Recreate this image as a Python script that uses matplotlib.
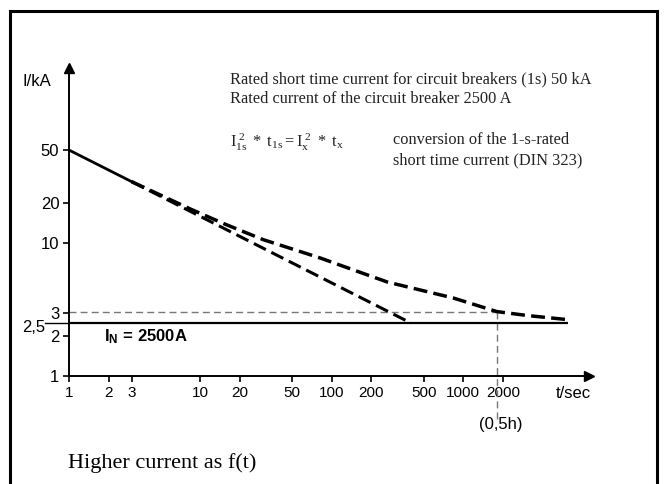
import matplotlib
matplotlib.use("Agg")
import matplotlib.pyplot as plt
from matplotlib.patches import Rectangle

# ---- data ----
t_ticks = [1, 2, 3, 10, 20, 50, 100, 200, 500, 1000, 2000]
t_tick_labels = ["1", "2", "3", "10", "20", "50", "100", "200", "500", "1000", "2000"]
i_ticks = [1, 2, 3, 10, 20, 50]
i_tick_labels = ["1", "2", "3", "10", "20", "50"]

# shared initial segment (solid)
common_t = [1, 3]
common_i = [50, 28.9]
# I^2 t = const line (dashed)
i2t_t = [3, 400]
i2t_i = [28.9, 2.5]
# upper curve (dashed)
upper_t = [3, 8.4, 15, 30, 82, 146, 264, 471, 838, 1800, 3055, 6300]
upper_i = [28.9, 18.0, 14.0, 10.6, 7.7, 6.27, 5.09, 4.43, 3.86, 3.05, 2.85, 2.65]
# rated current line
rated_t = [1, 6300]
rated_i = [2.5, 2.5]
# reference point (0,5 h)
ref_t = 1800
ref_i = 3.05

W, H = 664, 484
fig = plt.figure(figsize=(W / 100, H / 100), dpi=100)

sans = ["DejaVu Sans Condensed", "Liberation Sans", "DejaVu Sans"]
serif = ["Liberation Serif", "DejaVu Serif"]
plt.rcParams["mathtext.fontset"] = "stix"

def fx(x):
    return x / W

def fy(y):
    return 1 - y / H

# frame
fig.patches.append(Rectangle((fx(10), fy(495)), fx(657) - fx(10), fy(11) - fy(495),
                             transform=fig.transFigure, fill=False, lw=2.2, ec="black"))

left, right, top, bottom = 69, 589, 68, 376
ax = fig.add_axes([fx(left), fy(bottom), fx(right) - fx(left), fy(top) - fy(bottom)])
ax.set_xscale("log")
ax.set_yscale("log")
ax.set_xlim(1, 10 ** ((right - 68) / 131.7))
ax.set_ylim(1, 10 ** ((bottom - top) / 133.0))
ax.patch.set_alpha(0)
for s in ["top", "right"]:
    ax.spines[s].set_visible(False)
for s in ["left", "bottom"]:
    ax.spines[s].set_linewidth(1.4)

ax.set_xticks(t_ticks)
ax.set_xticklabels(t_tick_labels, family=sans, fontsize=11)
ax.set_yticks(i_ticks)
ax.set_yticklabels(i_tick_labels, family=sans, fontsize=12)
ax.xaxis.set_minor_locator(matplotlib.ticker.NullLocator())
ax.yaxis.set_minor_locator(matplotlib.ticker.NullLocator())
ax.tick_params(axis="both", direction="out", length=4, width=1.2, pad=3, colors="black")

# arrows
ax.plot(1, 0, marker=">", color="black", ms=7, transform=ax.transAxes, clip_on=False)
ax.plot(0, 1, marker="^", color="black", ms=7, transform=ax.transAxes, clip_on=False)

# reference dashed lines
ax.plot([1, ref_t], [ref_i, ref_i], color="#777777", lw=1.0, ls=(0, (5, 3)))
ax.plot([ref_t, ref_t], [ref_i, 0.47], color="#777777", lw=1.0, ls=(0, (5, 3)), clip_on=False)

# rated current line
ax.plot(rated_t, rated_i, color="black", lw=1.6, solid_capstyle="butt")
ax.plot([0.66, 1], [2.5, 2.5], color="black", lw=1.0, clip_on=False)

# curves
ax.plot(common_t, common_i, color="black", lw=2.0)
ax.plot(i2t_t, i2t_i, color="black", lw=2.2, ls=(0, (4.4, 2.0)))
ax.plot(upper_t, upper_i, color="black", lw=2.5, ls=(0, (4.0, 1.8)))

# texts
fig.text(fx(22), fy(327), "2,5", family=sans, fontsize=12, va="center", ha="left")
fig.text(fx(22), fy(82), "I/kA", family=sans, fontsize=12, va="center", ha="left")
fig.text(fx(556), fy(393), "t/sec", family=sans, fontsize=12, va="center", ha="left")
fig.text(fx(479), fy(425), "(0,5h)", family=sans, fontsize=12, va="center", ha="left")
fig.text(fx(104), fy(337), r"I$_\mathregular{N}$ = 2500A", family=sans, fontsize=12,
         fontweight="bold", va="center", ha="left")

tc = "#222222"
fig.text(fx(230), fy(79), "Rated short time current for circuit breakers (1s) 50 kA",
         family=serif, fontsize=11.8, va="center", ha="left", color=tc)
fig.text(fx(230), fy(99), "Rated current of the circuit breaker 2500 A",
         family=serif, fontsize=11.8, va="center", ha="left", color=tc)
fig.text(fx(230), fy(142), r"$\mathregular{I_{1s}^{\ 2}\ *\ t_{1s} = I_x^{\ 2}\ *\ t_x}$",
         family=serif, fontsize=11.8, va="center", ha="left", color=tc)
fig.text(fx(393), fy(140), "conversion of the 1-s-rated",
         family=serif, fontsize=11.8, va="center", ha="left", color=tc)
fig.text(fx(393), fy(160), "short time current (DIN 323)",
         family=serif, fontsize=11.8, va="center", ha="left", color=tc)
fig.text(fx(68), fy(463), "Higher current as f(t)", family=serif, fontsize=16,
         va="center", ha="left")

fig.savefig("out.png", dpi=100)
